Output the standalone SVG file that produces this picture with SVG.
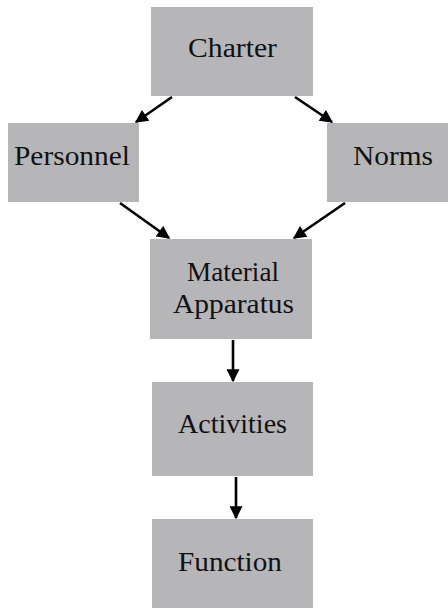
<svg xmlns="http://www.w3.org/2000/svg" width="448" height="608" viewBox="0 0 448 608">
<style>
.box{fill:#b6b6b9}
.lbl{font-family:"Liberation Serif","Times New Roman",serif;font-size:27px;fill:#111;text-anchor:middle}
.edge{stroke:#000;stroke-width:2.6;fill:none;marker-end:url(#ah)}
</style>
<defs>
<marker id="ah" viewBox="0 0 10 10" refX="9" refY="5" markerWidth="5.5" markerHeight="5" orient="auto" markerUnits="strokeWidth">
<path d="M0,0 L10,5 L0,10 z" fill="#000"/>
</marker>
</defs>
<rect width="448" height="608" fill="#fff"/>
<g id="charter"><rect class="box" x="151" y="7" width="162" height="89"/><text class="lbl" x="232.5" y="57" textLength="89" lengthAdjust="spacingAndGlyphs">Charter</text></g>
<g id="personnel"><rect class="box" x="8" y="123" width="131" height="79"/><text class="lbl" x="72" y="165" textLength="116" lengthAdjust="spacingAndGlyphs">Personnel</text></g>
<g id="norms"><rect class="box" x="327" y="123" width="121" height="79"/><text class="lbl" x="393" y="165" textLength="80" lengthAdjust="spacingAndGlyphs">Norms</text></g>
<g id="material"><rect class="box" x="150" y="239" width="162" height="100"/><text class="lbl" x="233" y="281" textLength="92" lengthAdjust="spacingAndGlyphs">Material</text><text class="lbl" x="233.5" y="313" textLength="121" lengthAdjust="spacingAndGlyphs">Apparatus</text></g>
<g id="activities"><rect class="box" x="152" y="382" width="161" height="94"/><text class="lbl" x="232.5" y="433" textLength="109" lengthAdjust="spacingAndGlyphs">Activities</text></g>
<g id="function"><rect class="box" x="152" y="519" width="161" height="89"/><text class="lbl" x="230" y="571" textLength="104" lengthAdjust="spacingAndGlyphs">Function</text></g>
<g id="connectors">
<line class="edge" x1="172" y1="97" x2="136" y2="122"/>
<line class="edge" x1="295" y1="97" x2="332" y2="122"/>
<line class="edge" x1="120" y1="203" x2="169" y2="238"/>
<line class="edge" x1="345" y1="203" x2="294" y2="238"/>
<line class="edge" x1="233" y1="340" x2="233" y2="381"/>
<line class="edge" x1="236" y1="477" x2="236" y2="518"/>
</g>
</svg>
